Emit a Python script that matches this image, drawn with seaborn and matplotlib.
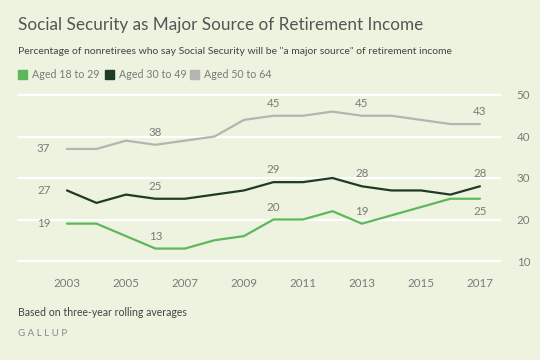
import matplotlib
matplotlib.use("Agg")
import matplotlib.pyplot as plt
import seaborn as sns
import pandas as pd

years = list(range(2003, 2018))
aged_18_29 = [19, 19, 16, 13, 13, 15, 16, 20, 20, 22, 19, 21, 23, 25, 25]
aged_30_49 = [27, 24, 26, 25, 25, 26, 27, 29, 29, 30, 28, 27, 27, 26, 28]
aged_50_64 = [37, 37, 39, 38, 39, 40, 44, 45, 45, 46, 45, 45, 44, 43, 43]
series_names = ["Aged 18 to 29", "Aged 30 to 49", "Aged 50 to 64"]
x_ticks = [2003, 2005, 2007, 2009, 2011, 2013, 2015, 2017]
y_ticks = [10, 20, 30, 40, 50]
label_years = [2003, 2006, 2010, 2013, 2017]

BG = "#edf3df"
colors = {"Aged 18 to 29": "#5cb85a", "Aged 30 to 49": "#1e3b26", "Aged 50 to 64": "#b4b4b0"}
TXT = "#7a7a7a"

df = pd.DataFrame({"year": years, series_names[0]: aged_18_29,
                   series_names[1]: aged_30_49, series_names[2]: aged_50_64})
long_df = df.melt(id_vars="year", var_name="group", value_name="pct")

sns.set_style("white")
plt.rcParams["font.family"] = ["Lato", "DejaVu Sans"]

fig = plt.figure(figsize=(5.4, 3.6), dpi=100, facecolor=BG)
ax = fig.add_axes([18 / 540, 1 - 261 / 360, 482 / 540, 166 / 360])
ax.set_facecolor(BG)

for y in y_ticks:
    ax.axhline(y, color="white", lw=1.6, zorder=0, clip_on=False)

sns.lineplot(data=long_df, x="year", y="pct", hue="group", palette=colors,
             hue_order=series_names[::-1], lw=1.6, legend=False, ax=ax,
             clip_on=False, zorder=3)

ax.set_xlim(2001.34, 2017.68)
ax.set_ylim(10, 50)
for s in ax.spines.values():
    s.set_visible(False)
ax.set_xticks(x_ticks)
ax.set_xticklabels([str(t) for t in x_ticks], fontsize=8.3, color=TXT)
ax.tick_params(axis="x", length=8, width=1.6, color="white", pad=4, direction="out")
ax.yaxis.tick_right()
ax.set_yticks(y_ticks)
ax.set_yticklabels([str(t) for t in y_ticks], fontsize=8.3, color=TXT)
ax.tick_params(axis="y", length=0, pad=12)
ax.set_xlabel("")
ax.set_ylabel("")

# data labels
for name in series_names:
    vals = df.set_index("year")[name]
    for yr in label_years:
        v = vals[yr]
        if yr == 2003:
            ax.annotate(str(v), (yr, v), xytext=(-12, 0), textcoords="offset points",
                        ha="right", va="center", fontsize=8.3, color=TXT)
        elif name == "Aged 18 to 29" and yr == 2017:
            ax.annotate(str(v), (yr, v), xytext=(0, -5), textcoords="offset points",
                        ha="center", va="top", fontsize=8.3, color=TXT)
        else:
            ax.annotate(str(v), (yr, v), xytext=(0, 5), textcoords="offset points",
                        ha="center", va="bottom", fontsize=8.3, color=TXT)

# title, subtitle, legend
fig.text(18 / 540, 1 - 25 / 360, "Social Security as Major Source of Retirement Income",
         fontsize=12.3, color="#555555", va="center", ha="left")
fig.text(18 / 540, 1 - 52 / 360,
         'Percentage of nonretirees who say Social Security will be "a major source" of retirement income',
         fontsize=7.5, color="#444444", va="center", ha="left")
leg_x = [18, 105, 190]
for lx, name in zip(leg_x, series_names):
    fig.patches.append(plt.Rectangle((lx / 540, 1 - 79 / 360), 9 / 540, 9 / 360,
                                     transform=fig.transFigure, color=colors[name]))
    fig.text((lx + 14) / 540, 1 - 74.5 / 360, name, fontsize=7.7, color=TXT,
             va="center", ha="left")

fig.text(18 / 540, 1 - 313 / 360, "Based on three-year rolling averages",
         fontsize=7.6, color="#444444", va="center", ha="left")
fig.text(18 / 540, 1 - 333 / 360, "G A L L U P", fontsize=7, color="#888888",
         va="center", ha="left")

fig.savefig("out.png", dpi=100, facecolor=BG)
